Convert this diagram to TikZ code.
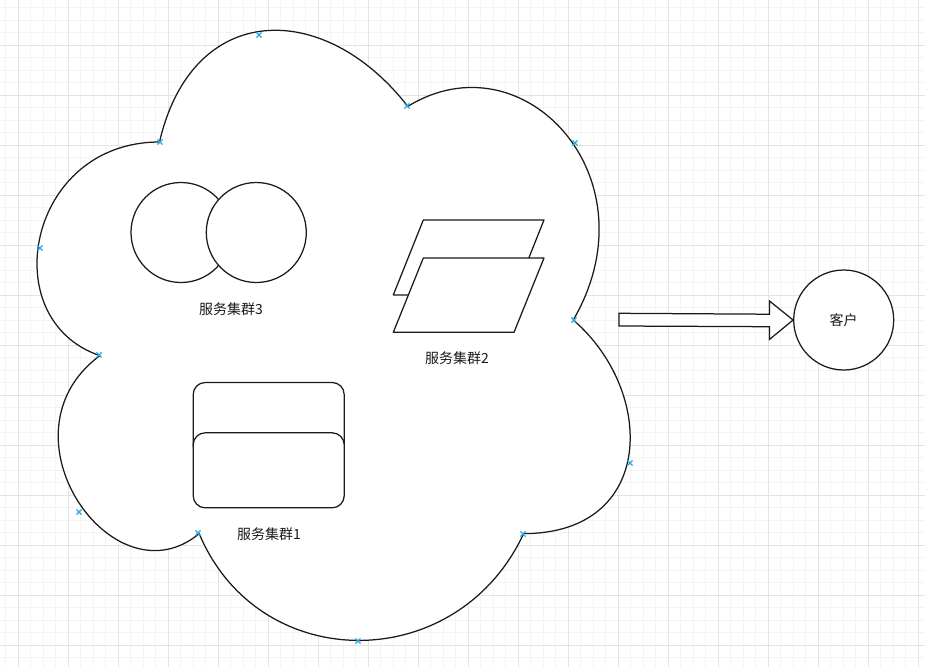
\documentclass[tikz,border=0pt]{standalone}
\usepackage{fontspec}
\setmainfont{Noto Sans CJK SC}
\definecolor{gridminor}{HTML}{F4F4F4}
\definecolor{gridmajor}{HTML}{E4E4E4}
\definecolor{markblue}{HTML}{2AA8E2}
\definecolor{ink}{HTML}{1A1A1A}
\begin{document}
\begin{tikzpicture}[x=1pt,y=-1pt,
  shapeline/.style={draw=ink,line width=1.25pt,fill=white,line join=round},
  circ/.style={shapeline,circle,minimum size=100pt,inner sep=0pt,font=\fontsize{14pt}{16pt}\selectfont,text=ink},
  rbox/.style={shapeline,rectangle,rounded corners=12pt,minimum width=151pt,minimum height=75pt,inner sep=0pt},
  lbl/.style={font=\fontsize{14pt}{16pt}\selectfont,text=ink,inner sep=0pt},
  xmk/.style={draw=markblue,line width=1.1pt},
  minorline/.style={draw=gridminor,line width=1pt},
  majorline/.style={draw=gridmajor,line width=1pt}]
% background and bounding box
\fill[white] (0,0) rectangle (925,667);
\useasboundingbox (0,0) rectangle (925,667);
% grid
\foreach \i in {0,...,74} {\draw[minorline] ({int(5.8+12.5*\i)+0.5},0) -- ({int(5.8+12.5*\i)+0.5},667);}
\foreach \i in {0,...,53} {\draw[minorline] (0,{int(7.5+12.5*\i)+0.5}) -- (925,{int(7.5+12.5*\i)+0.5});}
\foreach \i in {0,...,18} {\draw[majorline] ({18.5+50*\i},0) -- ({18.5+50*\i},667);}
\foreach \i in {0,...,13} {\draw[majorline] (0,{45.5+50*\i}) -- (925,{45.5+50*\i});}
% cloud
\draw[shapeline] (159.5,142) .. controls (27.1,142) and (-6,320) .. (99.9,355.6)
  .. controls (-6,433.9) and (113.2,604.8) .. (199.2,533.6)
  .. controls (258.8,676) and (457.4,676) .. (523.6,533.6)
  .. controls (656,533.6) and (656,391.2) .. (573.25,320)
  .. controls (656,177.6) and (523.6,35.2) .. (407.75,106.4)
  .. controls (325,-0.4) and (192.6,-0.4) .. (159.5,142) -- cycle;
% cluster 3: two circles
\node[circ] (c3a) at (181,232.5) {};
\node[circ] (c3b) at (256.3,232.5) {};
\node[lbl] (l3) at (231,309) {服务集群3};
% cluster 2: two parallelograms
\draw[shapeline] (423.3,220) -- (544,220) -- (514,295) -- (393.3,295) -- cycle;
\draw[shapeline] (423.3,258) -- (544,258) -- (514,332.3) -- (393.3,332.3) -- cycle;
\node[lbl] (l2) at (457,358) {服务集群2};
% cluster 1: two rounded boxes
\node[rbox] (r1a) at (268.7,420) {};
\node[rbox] (r1b) at (268.7,470.3) {};
\node[lbl] (l1) at (269,534) {服务集群1};
% customer
\node[circ] (kehu) at (843.7,320) {客户};
% block arrow
\draw[shapeline,line join=miter] (619,313.3) -- (769.5,314.2) -- (769.5,301) -- (kehu.west)
  -- (769.5,339.4) -- (769.5,326.7) -- (619,326) -- cycle;
% connection markers
\foreach \x/\y in {259/35,407/106,575/143,160/142,40/248,574/320,99/355,630/463,79/512,523/534,198/533,358/641}
  {\draw[xmk,shift={(\x,\y)}] (-2.6,-2.6) -- (2.6,2.6) (-2.6,2.6) -- (2.6,-2.6);}
\end{tikzpicture}
\end{document}
